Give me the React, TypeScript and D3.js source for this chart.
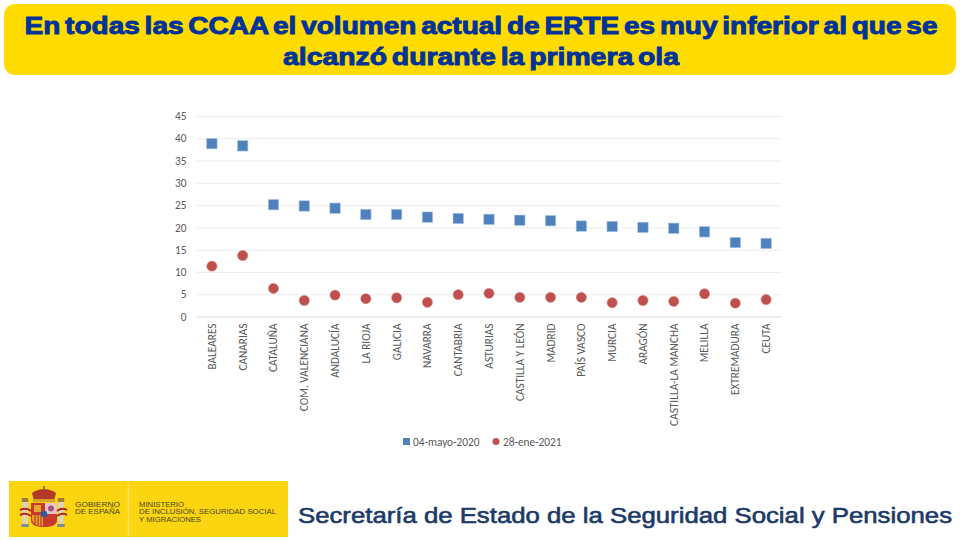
import React, { useEffect, useRef } from "react";
import * as d3 from "d3";

const regions = [
  "BALEARES", "CANARIAS", "CATALUÑA", "COM. VALENCIANA", "ANDALUCÍA", "LA RIOJA", "GALICIA",
  "NAVARRA", "CANTABRIA", "ASTURIAS", "CASTILLA Y LEÓN", "MADRID", "PAÍS VASCO", "MURCIA",
  "ARAGÓN", "CASTILLA-LA MANCHA", "MELILLA", "EXTREMADURA", "CEUTA",
];
const mayo2020 = [38.8, 38.3, 25.1, 24.8, 24.3, 22.9, 22.9, 22.3, 22.0, 21.8, 21.6, 21.5, 20.3, 20.2, 20.0, 19.8, 19.0, 16.6, 16.4];
const ene2021 = [11.3, 13.7, 6.3, 3.6, 4.8, 4.0, 4.2, 3.2, 4.9, 5.2, 4.3, 4.3, 4.3, 3.1, 3.6, 3.4, 5.1, 3.0, 3.8];
const yTicks = [0, 5, 10, 15, 20, 25, 30, 35, 40, 45];
const seriesNames = ["04-mayo-2020", "28-ene-2021"];
const titleLines = [
  "En todas las CCAA el volumen actual de ERTE es muy inferior al que se",
  "alcanzó durante la primera ola",
];
const titleWidths = [913, 396];

const App = () => {
  const svgRef = useRef<SVGSVGElement>(null);

  useEffect(() => {
    const svg = d3.select(svgRef.current);
    svg.selectAll("*").remove();

    const sans = "Carlito, Lato, 'Open Sans', sans-serif";
    const blue = "#4f81bd";
    const red = "#c0504d";
    const grey = "#595959";

    // title box
    svg.append("rect").attr("x", 4).attr("y", 4).attr("width", 952).attr("height", 71).attr("rx", 11).attr("fill", "#ffdb00");
    svg.selectAll(".title").data(titleLines).join("text")
      .attr("x", 481)
      .attr("y", (_, i) => 33.5 + i * 31.5)
      .attr("text-anchor", "middle")
      .attr("font-family", "'Liberation Sans', sans-serif")
      .attr("font-weight", 700)
      .attr("font-size", 23.5)
      .attr("word-spacing", -2.5)
      .attr("textLength", (_, i) => titleWidths[i])
      .attr("lengthAdjust", "spacingAndGlyphs")
      .attr("fill", "#003399")
      .attr("stroke", "#003399")
      .attr("stroke-width", 0.9)
      .text((d) => d);

    const x = d3.scaleBand().domain(regions).range([196.5, 781.5]);
    const y = d3.scaleLinear().domain([0, 45]).range([316.5, 116]);
    const cx = (d: string) => (x(d) as number) + x.bandwidth() / 2;

    // gridlines and axes
    svg.append("g")
      .attr("transform", "translate(196.5,0)")
      .call(d3.axisLeft(y).tickValues(yTicks).tickSize(-585).tickPadding(10))
      .call((g) => g.select(".domain").remove())
      .call((g) => g.selectAll(".tick line").attr("stroke", "#ececec").attr("stroke-width", 1))
      .call((g) => g.selectAll(".tick text").attr("fill", grey).attr("font-family", sans).attr("font-size", 11.3));

    svg.append("g")
      .attr("transform", "translate(0,316.5)")
      .call(d3.axisBottom(x).tickSize(0))
      .call((g) => g.select(".domain").attr("stroke", "#e4e4e4"))
      .call((g) => g.selectAll(".tick text")
        .attr("transform", "translate(0,7) rotate(-90)")
        .attr("x", 0)
        .attr("y", 0)
        .attr("dy", "0.35em")
        .attr("text-anchor", "end")
        .attr("fill", grey)
        .attr("font-family", sans)
        .attr("font-size", 11.3));

    // series
    svg.append("g").selectAll("rect").data(regions).join("rect")
      .attr("x", (d) => cx(d) - 5.2)
      .attr("y", (_, i) => y(mayo2020[i]) - 5.2)
      .attr("width", 10.4)
      .attr("height", 10.4)
      .attr("fill", blue)
      .attr("stroke", "#a9c4e4")
      .attr("stroke-width", 0.6);

    svg.append("g").selectAll("circle").data(regions).join("circle")
      .attr("cx", (d) => cx(d))
      .attr("cy", (_, i) => y(ene2021[i]))
      .attr("r", 5.2)
      .attr("fill", red)
      .attr("stroke", "#dca5a3")
      .attr("stroke-width", 0.5);

    // legend
    const legend = svg.append("g").attr("font-family", sans).attr("font-size", 11.3).attr("fill", grey);
    legend.append("rect").attr("x", 403).attr("y", 438).attr("width", 7).attr("height", 7).attr("fill", blue);
    legend.append("text").attr("x", 413).attr("y", 445.5).text(seriesNames[0]);
    legend.append("circle").attr("cx", 496).attr("cy", 441.5).attr("r", 3.5).attr("fill", red);
    legend.append("text").attr("x", 503).attr("y", 445.5).text(seriesNames[1]);

    // footer logo
    const logo = svg.append("g");
    logo.append("rect").attr("x", 9).attr("y", 481).attr("width", 279).attr("height", 56).attr("fill", "#fcd511");
    logo.append("line").attr("x1", 128.5).attr("x2", 128.5).attr("y1", 481).attr("y2", 537).attr("stroke", "#fde25a").attr("stroke-width", 1.5);

    // coat of arms, simplified
    logo.append("path").attr("d", "M32 493 Q38 489 44 489 Q50 489 56 493 L54 501 L34 501 Z").attr("fill", "#b23a2a");
    logo.append("path").attr("d", "M33 499 H55 V502 H33 Z").attr("fill", "#d9a12c");
    logo.append("rect").attr("x", 43).attr("y", 486).attr("width", 2).attr("height", 4).attr("fill", "#8a7a2a");
    logo.append("path").attr("d", "M31 503 H57 V520 Q57 527 44 527 Q31 527 31 520 Z").attr("fill", "#c8392b");
    logo.append("rect").attr("x", 45).attr("y", 503).attr("width", 12).attr("height", 11).attr("fill", "#e6c4cc");
    logo.append("circle").attr("cx", 51).attr("cy", 508.5).attr("r", 3).attr("fill", "#a0527a");
    logo.append("rect").attr("x", 34).attr("y", 505).attr("width", 7).attr("height", 7).attr("fill", "#e0a92e");
    logo.append("path").attr("d", "M32 515 H43 V526 Q34 526 32 520 Z").attr("fill", "#dfa42c");
    logo.append("path").attr("d", "M35 515 V525 M38 515 V526 M41 515 V526").attr("stroke", "#c8392b").attr("stroke-width", 1.2);
    logo.append("circle").attr("cx", 44).attr("cy", 514).attr("r", 3.2).attr("fill", "#2f5a9e");
    [[22.5], [58.5]].forEach(([px]) => {
      logo.append("rect").attr("x", px).attr("y", 501).attr("width", 5).attr("height", 24).attr("fill", "#d8d5c8");
      logo.append("rect").attr("x", px - 0.7).attr("y", 498).attr("width", 6.4).attr("height", 4).attr("fill", "#9c7f2c");
      logo.append("rect").attr("x", px - 1.2).attr("y", 524).attr("width", 7.4).attr("height", 3).attr("fill", "#7f8a8c");
    });
    logo.append("path").attr("d", "M20 510 Q26 507 31 511 M20 515 Q26 512 31 516 M57 511 Q62 507 67 510 M57 516 Q62 512 67 515")
      .attr("fill", "none").attr("stroke", "#b3261e").attr("stroke-width", 2);

    const logoText = logo.append("g").attr("font-family", "'Liberation Sans', sans-serif").attr("fill", "#4a4520").attr("font-size", 6.5);
    [["GOBIERNO", 506.7, 45], ["DE ESPAÑA", 514.3, 45]].forEach(([t, py, w]) => {
      logoText.append("text").attr("x", 75).attr("y", py as number).attr("textLength", w as number).attr("lengthAdjust", "spacingAndGlyphs").text(t as string);
    });
    [["MINISTERIO", 506.7, 45], ["DE INCLUSIÓN, SEGURIDAD SOCIAL", 514.3, 137], ["Y MIGRACIONES", 521.8, 62]].forEach(([t, py, w]) => {
      logoText.append("text").attr("x", 139).attr("y", py as number).attr("textLength", w as number).attr("lengthAdjust", "spacingAndGlyphs").text(t as string);
    });

    svg.append("text")
      .attr("x", 298)
      .attr("y", 522.5)
      .attr("font-family", "'Liberation Sans', sans-serif")
      .attr("font-size", 22.5)
      .attr("textLength", 654)
      .attr("lengthAdjust", "spacingAndGlyphs")
      .attr("fill", "#1b3a68")
      .attr("stroke", "#1b3a68")
      .attr("stroke-width", 0.6)
      .text("Secretaría de Estado de la Seguridad Social y Pensiones");
  }, []);

  return (
    <svg
      ref={svgRef}
      width={960}
      height={540}
      style={{ position: "absolute", left: 0, top: 0, background: "#fff" }}
    />
  );
};

export default App;
